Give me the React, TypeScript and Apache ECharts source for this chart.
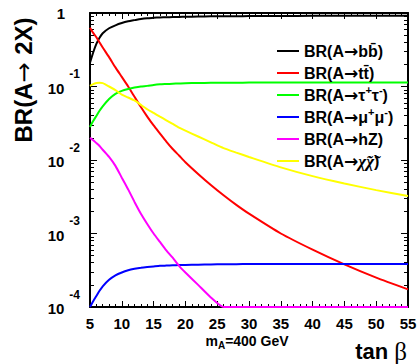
import { useEffect, useRef } from "react";
import * as echarts from "echarts";

// tan(beta) sample points (x axis)
const tanBeta = [5, 5.5, 6, 6.5, 7, 8, 9, 10, 11, 12, 13, 14, 15, 16, 17, 18, 19, 20, 22, 24, 26, 28, 30, 35, 40, 45, 50, 55];

// Branching ratios
const brBB = [0.21, 0.29, 0.38, 0.46, 0.53, 0.62, 0.68, 0.73, 0.77, 0.8, 0.83, 0.85, 0.86, 0.87, 0.875, 0.88, 0.885, 0.89, 0.895, 0.9, 0.903, 0.905, 0.908, 0.912, 0.915, 0.917, 0.918, 0.92];
const brTT = [0.631, 0.537, 0.468, 0.398, 0.339, 0.251, 0.182, 0.135, 0.1, 0.0724, 0.0525, 0.0389, 0.0295, 0.0229, 0.0178, 0.0141, 0.0115, 0.00933, 0.00646, 0.00457, 0.00331, 0.00245, 0.00186, 0.001, 0.000603, 0.00038, 0.000251, 0.000174];
const brTauTau = [0.0282, 0.0339, 0.0398, 0.0468, 0.0537, 0.0676, 0.0794, 0.0871, 0.0923, 0.0966, 0.1, 0.102, 0.105, 0.107, 0.108, 0.109, 0.11, 0.111, 0.1117, 0.1122, 0.1125, 0.1127, 0.113, 0.1132, 0.1135, 0.1135, 0.1135, 0.1135];
const brMuMu = [1.0e-4, 1.2e-4, 1.41e-4, 1.66e-4, 1.91e-4, 2.34e-4, 2.69e-4, 2.95e-4, 3.16e-4, 3.31e-4, 3.43e-4, 3.51e-4, 3.57e-4, 3.63e-4, 3.66e-4, 3.69e-4, 3.72e-4, 3.73e-4, 3.77e-4, 3.8e-4, 3.82e-4, 3.83e-4, 3.84e-4, 3.85e-4, 3.85e-4, 3.85e-4, 3.85e-4, 3.85e-4];
const brHZ = [0.02, 0.0186, 0.017, 0.0155, 0.0138, 0.011, 0.00832, 0.00575, 0.00398, 0.00269, 0.00186, 0.00135, 0.001, 0.000767, 0.000589, 0.000468, 0.000363, 0.000295, 0.0002, 0.000135, 0.0001, 0.0001, 0.0001, 0.0001, 0.0001, 0.0001, 0.0001, 0.0001];
const brChiChi = [0.102, 0.108, 0.1117, 0.1127, 0.111, 0.1, 0.0891, 0.0776, 0.0708, 0.0646, 0.0562, 0.049, 0.0437, 0.0389, 0.0347, 0.0309, 0.0275, 0.0251, 0.0209, 0.0174, 0.0145, 0.0126, 0.011, 0.00794, 0.00603, 0.00479, 0.00389, 0.00324];

const seriesKeys = ["bb", "tt", "tautau", "mumu", "hZ", "chichi"];
const seriesData = [brBB, brTT, brTauTau, brMuMu, brHZ, brChiChi];
const seriesColors = ["#000000", "#ff0000", "#00ff00", "#0000ff", "#ff00ff", "#ffff00"];
const legendLabels: Record<string, string> = {
  bb: "{t|BR(A}{a|\u2192}{t|bb\u0304)}",
  tt: "{t|BR(A}{a|\u2192}{t|tt\u0304)}",
  tautau: "{t|BR(A}{a|\u2192}{t|\u03c4}{s|+}{t|\u03c4}{s|-}{t|)}",
  mumu: "{t|BR(A}{a|\u2192}{t|\u03bc}{s|+}{t|\u03bc}{s|-}{t|)}",
  hZ: "{t|BR(A}{a|\u2192}{t|hZ)}",
  chichi: "{t|BR(A}{a|\u2192}{c|\u03c7\u0303\u03c7\u0303}{t|)}",
};

// axis ticks
const yMin = 1e-4;
const yMax = 1;
const yMajor = [1e-4, 1e-3, 1e-2, 1e-1, 1];
const yMinor: number[] = [];
for (let k = -4; k <= -1; k++) for (let m = 2; m <= 9; m++) yMinor.push(Number((m * Math.pow(10, k)).toPrecision(3)));
const xMin = 5;
const xMax = 55;
const xInterval = 5;

const FONT = "'Liberation Sans', Arial, Helvetica, sans-serif";
const ARROW_FONT = "'DejaVu Sans', sans-serif";

export default function App() {
  const ref = useRef<HTMLDivElement>(null);
  useEffect(() => {
    const chart = echarts.init(ref.current!, null, { renderer: "svg" });
    const frameLine = { show: true, lineStyle: { color: "#000", width: 2 } };
    const yBase = { type: "log", logBase: 10, min: yMin, max: yMax, splitLine: { show: false }, minorTick: { show: false }, minorSplitLine: { show: false } };
    const xBase = {
      type: "value", min: xMin, max: xMax, interval: xInterval, splitLine: { show: false },
      minorTick: { show: true, splitNumber: 5, length: 3, lineStyle: { color: "#000", width: 1 } },
      minorSplitLine: { show: false },
      axisTick: { show: true, inside: true, length: 6, lineStyle: { color: "#000", width: 1 } },
      axisLine: frameLine,
    };
    const option: any = {
      animation: false,
      backgroundColor: "#fff",
      grid: { left: 90, right: 11, top: 13, bottom: 57, outerBoundsMode: "none", containLabel: false },
      xAxis: [
        {
          ...xBase, position: "bottom",
          axisLabel: { show: true, margin: 9, fontFamily: FONT, fontWeight: "bold", fontSize: 15, color: "#000" },
        },
        { ...xBase, position: "top", axisLabel: { show: false } },
      ],
      yAxis: [
        {
          ...yBase, position: "left", axisLine: frameLine,
          axisTick: { show: true, inside: true, length: 7, customValues: yMajor, lineStyle: { color: "#000", width: 1 } },
          axisLabel: {
            show: true, margin: 10, customValues: yMajor, color: "#000",
            formatter: (v: number) => {
              const e = Math.round(Math.log10(v));
              return e === 0 ? "{one|1}" : "{b|10}{s|" + e + "}";
            },
            rich: {
              one: { fontFamily: FONT, fontWeight: "bold", fontSize: 15, color: "#000", padding: [0, 15, 0, 0] },
              b: { fontFamily: FONT, fontWeight: "bold", fontSize: 15, color: "#000", padding: [3, 0, 0, 0] },
              s: { fontFamily: FONT, fontWeight: "bold", fontSize: 12, color: "#000", padding: [0, 0, 25, 5] },
            },
          },
        },
        {
          ...yBase, position: "left", axisLine: { show: false },
          axisTick: { show: true, inside: true, length: 4, customValues: yMinor, lineStyle: { color: "#000", width: 1 } },
          axisLabel: { show: false },
        },
        {
          ...yBase, position: "right", axisLine: frameLine,
          axisTick: { show: true, inside: true, length: 7, customValues: yMajor, lineStyle: { color: "#000", width: 1 } },
          axisLabel: { show: false },
        },
        {
          ...yBase, position: "right", axisLine: { show: false },
          axisTick: { show: true, inside: true, length: 4, customValues: yMinor, lineStyle: { color: "#000", width: 1 } },
          axisLabel: { show: false },
        },
      ],
      legend: {
        orient: "vertical", left: 277, top: 40, itemWidth: 22, itemHeight: 2, itemGap: 0, icon: "rect",
        selectedMode: false, padding: 0,
        data: seriesKeys.map((k) => ({ name: k, icon: "rect" })),
        formatter: (name: string) => legendLabels[name],
        textStyle: {
          fontFamily: FONT, fontWeight: "bold", fontSize: 16, color: "#000", lineHeight: 22,
          rich: {
            t: { fontFamily: FONT, fontWeight: "bold", fontSize: 16, color: "#000", lineHeight: 22 },
            a: { fontFamily: ARROW_FONT, fontSize: 17, color: "#000", lineHeight: 22 },
            s: { fontFamily: FONT, fontWeight: "bold", fontSize: 11, color: "#000", lineHeight: 12, verticalAlign: "top" },
            c: { fontFamily: "'Liberation Serif', serif", fontStyle: "italic", fontSize: 17, color: "#000", lineHeight: 22 },
          },
        },
      },
      series: seriesKeys.map((k, i) => ({
        name: k, type: "line", xAxisIndex: 0, yAxisIndex: 0,
        data: tanBeta.map((x, j) => [x, seriesData[i][j]]),
        showSymbol: false, symbol: "none", smooth: 0.2,
        color: seriesColors[i],
        itemStyle: { color: seriesColors[i] },
        lineStyle: { color: seriesColors[i], width: 2 },
        emphasis: { disabled: true }, silent: true, z: 2,
      })),
      graphic: [
        {
          type: "text", x: 23.5, y: 80, rotation: Math.PI / 2,
          style: {
            text: "{t|BR(A}{a|\u2192 }{t|2X)}", align: "center", verticalAlign: "middle", textAlign: "center", textVerticalAlign: "middle",
            rich: {
              t: { fontFamily: FONT, fontWeight: "bold", fontSize: 24, fill: "#000", color: "#000" },
              a: { fontFamily: ARROW_FONT, fontSize: 24, fill: "#000", color: "#000" },
            },
          },
        },
        {
          type: "text", x: 247, y: 341,
          style: {
            text: "{m|m}{a|A}{m|=400 GeV}", align: "center", verticalAlign: "middle", textAlign: "center", textVerticalAlign: "middle",
            rich: {
              m: { fontFamily: FONT, fontWeight: "bold", fontSize: 14, fill: "#000", color: "#000" },
              a: { fontFamily: FONT, fontWeight: "bold", fontSize: 10, fill: "#000", color: "#000", padding: [9, 0, 0, 0] },
            },
          },
        },
        {
          type: "text", x: 407, y: 351,
          style: {
            text: "{t|tan }{b|\u03b2}", align: "right", verticalAlign: "middle", textAlign: "right", textVerticalAlign: "middle",
            rich: {
              t: { fontFamily: FONT, fontWeight: "bold", fontSize: 22, fill: "#000", color: "#000" },
              b: { fontFamily: "'Liberation Serif', serif", fontSize: 25, fill: "#000", color: "#000" },
            },
          },
        },
      ],
    };
    chart.setOption(option);
    return () => chart.dispose();
  }, []);
  return <div ref={ref} style={{ position: "fixed", left: 0, top: 0, width: 419, height: 364 }} />;
}
